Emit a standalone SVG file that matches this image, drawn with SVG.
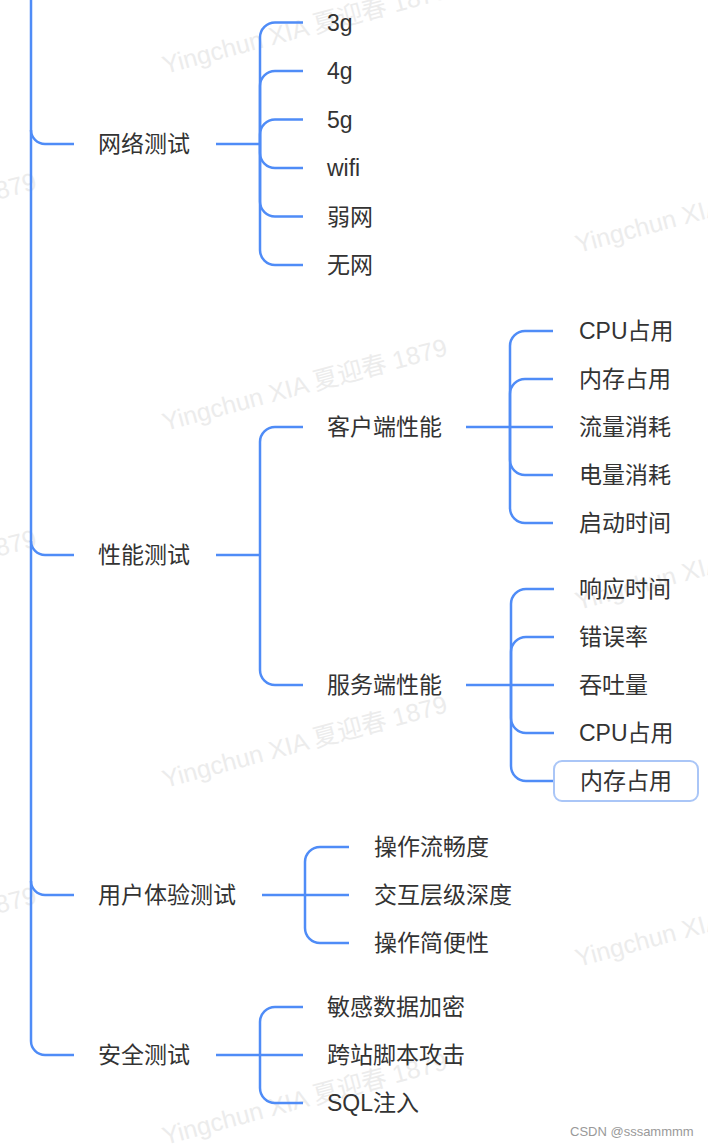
<svg xmlns="http://www.w3.org/2000/svg" width="708" height="1146" viewBox="0 0 708 1146">
  <style>
    .wm { font-family: "Liberation Sans", "Noto Sans CJK SC", sans-serif; font-size: 25px; fill: #ececec; }
    .t { font-family: "Liberation Sans", "Noto Sans CJK SC", sans-serif; font-size: 23px; fill: #333333; dominant-baseline: central; }
    .c { fill: none; stroke: #4f8cf7; stroke-width: 2.5; stroke-linecap: butt; }
    .hl { fill: #ffffff; stroke: #aac6f7; stroke-width: 2; }
    .csdn { font-family: "Liberation Sans", sans-serif; font-size: 13px; fill: #999999; }
  </style>
  <rect x="0" y="0" width="708" height="1146" fill="#ffffff"/>

  <g id="watermarks">
    <text class="wm" x="165" y="74" transform="rotate(-15 165 74)">Yingchun XIA 夏迎春 1879</text>
    <text class="wm" x="165" y="431" transform="rotate(-15 165 431)">Yingchun XIA 夏迎春 1879</text>
    <text class="wm" x="165" y="788" transform="rotate(-15 165 788)">Yingchun XIA 夏迎春 1879</text>
    <text class="wm" x="165" y="1145" transform="rotate(-15 165 1145)">Yingchun XIA 夏迎春 1879</text>
    <text class="wm" x="578" y="253" transform="rotate(-15 578 253)">Yingchun XIA 夏迎春 1879</text>
    <text class="wm" x="578" y="610" transform="rotate(-15 578 610)">Yingchun XIA 夏迎春 1879</text>
    <text class="wm" x="578" y="967" transform="rotate(-15 578 967)">Yingchun XIA 夏迎春 1879</text>
    <text class="wm" x="38" y="189" text-anchor="end" transform="rotate(-15 38 189)">Yingchun XIA 夏迎春 1879</text>
    <text class="wm" x="38" y="546" text-anchor="end" transform="rotate(-15 38 546)">Yingchun XIA 夏迎春 1879</text>
    <text class="wm" x="38" y="903" text-anchor="end" transform="rotate(-15 38 903)">Yingchun XIA 夏迎春 1879</text>
  </g>

  <g id="connectors">
    <!-- main spine -->
    <path class="c" d="M31 0 V1041 A14 14 0 0 0 45 1055 H74"/>
    <path class="c" d="M31 130 A14 14 0 0 0 45 144 H74"/>
    <path class="c" d="M31 541 A14 14 0 0 0 45 555 H74"/>
    <path class="c" d="M31 881 A14 14 0 0 0 45 895 H74"/>

    <!-- 网络测试 -->
    <path class="c" d="M216 144 H260"/>
    <path class="c" d="M260 144 V37.5 A15 15 0 0 1 275 22.5 H303"/>
    <path class="c" d="M260 144 V86 A15 15 0 0 1 275 71 H303"/>
    <path class="c" d="M260 144 V134.5 A15 15 0 0 1 275 119.5 H303"/>
    <path class="c" d="M260 144 V153 A15 15 0 0 0 275 168 H303"/>
    <path class="c" d="M260 144 V201.5 A15 15 0 0 0 275 216.5 H303"/>
    <path class="c" d="M260 144 V250 A15 15 0 0 0 275 265 H303"/>

    <!-- 性能测试 -->
    <path class="c" d="M216 555 H260"/>
    <path class="c" d="M260 555 V442 A15 15 0 0 1 275 427 H303"/>
    <path class="c" d="M260 555 V670 A15 15 0 0 0 275 685 H303"/>

    <!-- 客户端性能 -->
    <path class="c" d="M466 427 H510"/>
    <path class="c" d="M510 427 V346 A15 15 0 0 1 525 331 H553"/>
    <path class="c" d="M510 427 V394 A15 15 0 0 1 525 379 H553"/>
    <path class="c" d="M510 427 H553"/>
    <path class="c" d="M510 427 V460 A15 15 0 0 0 525 475 H553"/>
    <path class="c" d="M510 427 V508 A15 15 0 0 0 525 523 H553"/>

    <!-- 服务端性能 -->
    <path class="c" d="M466 685 H511"/>
    <path class="c" d="M511 685 V604 A15 15 0 0 1 526 589 H554"/>
    <path class="c" d="M511 685 V652 A15 15 0 0 1 526 637 H554"/>
    <path class="c" d="M511 685 H554"/>
    <path class="c" d="M511 685 V718 A15 15 0 0 0 526 733 H554"/>
    <path class="c" d="M511 685 V766 A15 15 0 0 0 526 781 H554"/>

    <!-- 用户体验测试 -->
    <path class="c" d="M262 895 H305"/>
    <path class="c" d="M305 895 V862 A15 15 0 0 1 320 847 H349"/>
    <path class="c" d="M305 895 H349"/>
    <path class="c" d="M305 895 V928 A15 15 0 0 0 320 943 H349"/>

    <!-- 安全测试 -->
    <path class="c" d="M216 1055 H260"/>
    <path class="c" d="M260 1055 V1022 A15 15 0 0 1 275 1007 H303"/>
    <path class="c" d="M260 1055 H303"/>
    <path class="c" d="M260 1055 V1088 A15 15 0 0 0 275 1103 H303"/>
  </g>

  <g id="n-wangluo"><text class="t" x="98" y="144">网络测试</text></g>
  <g id="n-3g"><text class="t" x="327" y="22.5">3g</text></g>
  <g id="n-4g"><text class="t" x="327" y="71">4g</text></g>
  <g id="n-5g"><text class="t" x="327" y="119.5">5g</text></g>
  <g id="n-wifi"><text class="t" x="327" y="168">wifi</text></g>
  <g id="n-ruowang"><text class="t" x="327" y="216.5">弱网</text></g>
  <g id="n-wuwang"><text class="t" x="327" y="265">无网</text></g>

  <g id="n-xingneng"><text class="t" x="98" y="555">性能测试</text></g>
  <g id="n-kehuduan"><text class="t" x="327" y="427">客户端性能</text></g>
  <g id="n-k-cpu"><text class="t" x="579" y="331">CPU占用</text></g>
  <g id="n-k-mem"><text class="t" x="579" y="379">内存占用</text></g>
  <g id="n-k-flow"><text class="t" x="579" y="427">流量消耗</text></g>
  <g id="n-k-power"><text class="t" x="579" y="475">电量消耗</text></g>
  <g id="n-k-start"><text class="t" x="579" y="523">启动时间</text></g>

  <g id="n-fuwuduan"><text class="t" x="327" y="685">服务端性能</text></g>
  <g id="n-f-resp"><text class="t" x="579" y="589">响应时间</text></g>
  <g id="n-f-err"><text class="t" x="579" y="637">错误率</text></g>
  <g id="n-f-tput"><text class="t" x="579" y="685">吞吐量</text></g>
  <g id="n-f-cpu"><text class="t" x="579" y="733">CPU占用</text></g>
  <g id="n-f-mem">
    <rect class="hl" x="554" y="761" width="144" height="40" rx="8" ry="8"/>
    <text class="t" x="580" y="781">内存占用</text>
  </g>

  <g id="n-yonghu"><text class="t" x="98" y="895">用户体验测试</text></g>
  <g id="n-y-smooth"><text class="t" x="374" y="847">操作流畅度</text></g>
  <g id="n-y-depth"><text class="t" x="374" y="895">交互层级深度</text></g>
  <g id="n-y-easy"><text class="t" x="374" y="943">操作简便性</text></g>

  <g id="n-anquan"><text class="t" x="98" y="1055">安全测试</text></g>
  <g id="n-a-enc"><text class="t" x="327" y="1007">敏感数据加密</text></g>
  <g id="n-a-xss"><text class="t" x="327" y="1055">跨站脚本攻击</text></g>
  <g id="n-a-sql"><text class="t" x="327" y="1103">SQL注入</text></g>

  <text class="csdn" x="570" y="1136">CSDN @sssammmm</text>
</svg>
